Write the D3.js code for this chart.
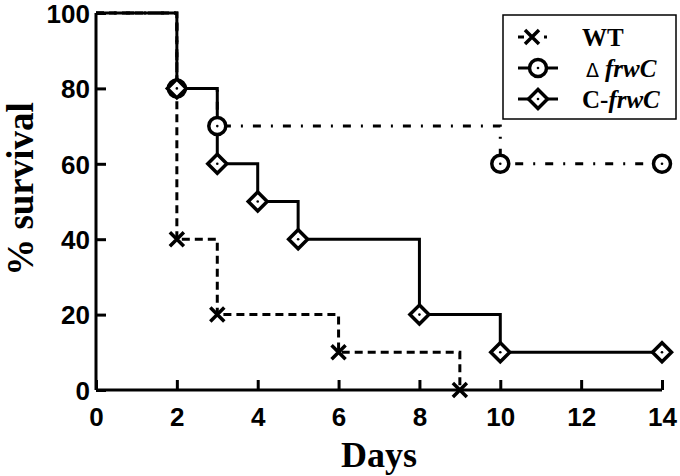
<!DOCTYPE html>
<html><head><meta charset="utf-8">
<script src="https://cdn.jsdelivr.net/npm/d3@7"></script>
<style>body{margin:0;background:#fff}</style>
</head><body>
<svg id="c" width="680" height="476"></svg>
<script>
const xTicks = [0,2,4,6,8,10,12,14];
const yTicks = [0,20,40,60,80,100];
const wtDays = [0,2,3,6,9];
const wtSurv = [100,40,20,10,0];
const koDays = [0,2,3,10,14];
const koSurv = [100,80,70,60,60];
const cDays = [0,2,3,4,5,8,10,14];
const cSurv = [100,80,60,50,40,20,10,10];

const svg = d3.select("#c");
const x = d3.scaleLinear().domain([0,14]).range([96,662]);
const y = d3.scaleLinear().domain([0,100]).range([390,13]);

function pts(d,s){return d.map((v,i)=>({x:v,y:s[i]}));}
const series = [
  {name:"WT", data:pts(wtDays,wtSurv), dash:"8,5", marker:"x"},
  {name:"ko", data:pts(koDays,koSurv), dash:"8,10,2,10", marker:"o"},
  {name:"c", data:pts(cDays,cSurv), dash:null, marker:"d"}
];
const line = d3.line().x(d=>x(d.x)).y(d=>y(d.y)).curve(d3.curveStepAfter);

// axes
const xa = d3.axisBottom(x).tickValues(xTicks).tickSize(-10).tickPadding(6).tickFormat(d3.format("d"));
const ya = d3.axisLeft(y).tickValues(yTicks).tickSize(-10).tickPadding(6).tickFormat(d3.format("d"));
const gx = svg.append("g").attr("transform",`translate(0,${y(0)})`).call(xa);
const gy = svg.append("g").attr("transform",`translate(${x(0)},0)`).call(ya);
[gx,gy].forEach(g=>{
  g.select(".domain").attr("stroke","#000").attr("stroke-width",3);
  g.selectAll(".tick line").attr("stroke","#000").attr("stroke-width",3);
  g.selectAll(".tick text").attr("fill","#000").style("font-family","Liberation Sans, Arial, sans-serif").style("font-weight","bold").style("font-size","26px");
});
gy.select(".domain").attr("d",`M-0,${y(100)}V${y(0)}`);
gx.select(".domain").attr("d",`M${x(0)},0H${x(14)}`);
gx.selectAll(".tick text").attr("y",17).attr("dy","0.72em");
gy.selectAll(".tick text").attr("dy","0.36em");

// lines
series.forEach(s=>{
  svg.append("path").attr("d",line(s.data)).attr("fill","none").attr("stroke","#000")
    .attr("stroke-width",3).attr("stroke-dasharray",s.dash);
});

function drawMarker(g,type,cx,cy){
  if(type==="x"){
    const r=7;
    g.append("path").attr("d",`M${cx-r},${cy-r}L${cx+r},${cy+r}M${cx-r},${cy+r}L${cx+r},${cy-r}`)
      .attr("stroke","#000").attr("stroke-width",3.5).attr("fill","none");
  } else if(type==="o"){
    g.append("circle").attr("cx",cx).attr("cy",cy).attr("r",8.5).attr("fill","#fff").attr("stroke","#000").attr("stroke-width",3.5);
    g.append("circle").attr("cx",cx).attr("cy",cy).attr("r",1.3).attr("fill","#000");
  } else {
    const r=9.5;
    g.append("path").attr("d",`M${cx},${cy-r}L${cx+r},${cy}L${cx},${cy+r}L${cx-r},${cy}Z`)
      .attr("fill","#fff").attr("stroke","#000").attr("stroke-width",3.5);
    g.append("circle").attr("cx",cx).attr("cy",cy).attr("r",1.3).attr("fill","#000");
  }
}
const mg = svg.append("g");
series.forEach(s=>{
  s.data.slice(1).forEach(p=>drawMarker(mg,s.marker,x(p.x),y(p.y)));
});

// axis titles
svg.append("text").attr("x",379).attr("y",467).attr("text-anchor","middle")
  .style("font-family","Liberation Serif, Times New Roman, serif").style("font-weight","bold").style("font-size","36px").text("Days");
svg.append("text").attr("transform","translate(33,189) rotate(-90)").attr("text-anchor","middle")
  .style("font-family","Liberation Serif, Times New Roman, serif").style("font-weight","bold").style("font-size","37px").text("% survival");

// legend
const lg = svg.append("g");
lg.append("rect").attr("x",503).attr("y",15).attr("width",173).attr("height",104).attr("fill","#fff").attr("stroke","#000").attr("stroke-width",1.5);
const legY=[37,68,99];
const lsty = "font-family:Liberation Serif, Times New Roman, serif;font-weight:bold;font-size:25px";
series.forEach((s,i)=>{
  const isX = s.marker==="x";
  lg.append("line").attr("x1",518).attr("x2",isX?547:558).attr("y1",legY[i]).attr("y2",legY[i])
    .attr("stroke","#000").attr("stroke-width",3).attr("stroke-dasharray",isX?"6,20,3":null);
  drawMarker(lg,s.marker,isX?532:538,legY[i]);
});
lg.append("text").attr("x",582).attr("y",legY[0]+9).attr("style",lsty).text("WT");
const t2 = lg.append("text").attr("x",586).attr("y",legY[1]+9).attr("style",lsty);
t2.append("tspan").style("font-weight","normal").style("font-family","DejaVu Sans, sans-serif").style("font-size","19px").text("Δ ");
t2.append("tspan").style("font-style","italic").text("frwC");
const t3 = lg.append("text").attr("x",582).attr("y",legY[2]+9).attr("style",lsty);
t3.append("tspan").text("C-");
t3.append("tspan").style("font-style","italic").text("frwC");
</script>
</body></html>
